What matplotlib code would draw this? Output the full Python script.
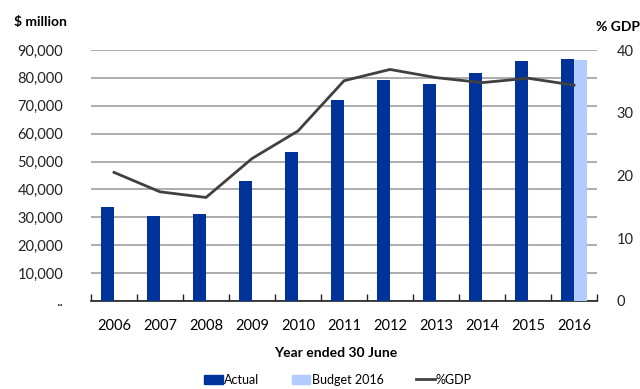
import matplotlib

matplotlib.use("Agg")
import matplotlib.pyplot as plt
from matplotlib.lines import Line2D
from matplotlib.patches import Patch
from matplotlib.ticker import FixedLocator, FuncFormatter

plt.rcParams["font.family"] = ["Lato", "DejaVu Sans"]

years = ["2006", "2007", "2008", "2009", "2010", "2011",
         "2012", "2013", "2014", "2015", "2016"]
actual = [33800, 30600, 31300, 43100, 53400, 72000,
          79200, 77700, 81700, 85900, 86600]
budget_2016 = 86400
pct_gdp = [20.5, 17.4, 16.5, 22.7, 27.1, 35.1,
           36.9, 35.6, 34.8, 35.5, 34.4]

ACTUAL_COLOR = "#003399"
BUDGET_COLOR = "#B3CCFF"
LINE_COLOR = "#404040"
GRID_COLOR = "#A6A6A6"

fig = plt.figure(figsize=(6.4, 3.89), dpi=100)
ax = fig.add_axes([91 / 640, 88 / 389, 506 / 640, 251 / 389])
ax2 = ax.twinx()

x = list(range(len(years)))
w = 0.28
ax.bar([i - w / 2 for i in x], actual, width=w, color=ACTUAL_COLOR, zorder=3)
ax.bar(x[-1] + w / 2, budget_2016, width=w, color=BUDGET_COLOR, zorder=3)
ax2.plot(x, pct_gdp, color=LINE_COLOR, linewidth=2, zorder=4)

ax.set_xlim(-0.5, len(years) - 0.5)
ax.set_ylim(0, 90000)
ax2.set_ylim(0, 40)

ax.set_yticks(range(0, 90001, 10000))
ax.yaxis.set_major_formatter(
    FuncFormatter(lambda v, _: ".." if v == 0 else f"{int(v):,}")
)
ax.grid(axis="y", color=GRID_COLOR, linewidth=1.3, zorder=0)
ax.set_axisbelow(True)
ax2.set_yticks(range(0, 41, 10))

ax.set_xticks(x)
ax.set_xticklabels(years)
ax.xaxis.set_minor_locator(FixedLocator([i - 0.5 for i in range(len(years) + 1)]))
ax.tick_params(axis="x", which="major", length=0, pad=13, labelsize=10.5)
ax.tick_params(axis="x", which="minor", direction="in", length=5, width=1, color="#222222")
ax.tick_params(axis="y", length=0, pad=20, labelsize=10.5, labelcolor="#222222")
ax2.tick_params(axis="y", length=0, pad=14, labelsize=10.5, labelcolor="#222222")

for a in (ax, ax2):
    for side in ("top", "left", "right"):
        a.spines[side].set_visible(False)
ax2.spines["bottom"].set_visible(False)
ax.spines["bottom"].set_color("#222222")
ax.spines["bottom"].set_linewidth(1.2)

fig.text(14 / 640, 1 - 22 / 389, "$ million", fontsize=10, fontweight="bold",
         ha="left", va="center")
fig.text(1.0, 1 - 27 / 389, "% GDP", fontsize=10, fontweight="bold",
         ha="right", va="center")
fig.text(0.5 + 16 / 640, 1 - 353 / 389, "Year ended 30 June", fontsize=10,
         fontweight="bold", ha="center", va="center")

handles = [
    Patch(color=ACTUAL_COLOR, label="Actual"),
    Patch(color=BUDGET_COLOR, label="Budget 2016"),
    Line2D([], [], color=LINE_COLOR, linewidth=2, label="%GDP"),
]
fig.legend(handles=handles, loc="center", bbox_to_anchor=(338 / 640, 1 - 380 / 389),
           ncol=3, frameon=False, fontsize=9, handlelength=1.5, handleheight=0.8,
           handletextpad=0.1, columnspacing=2.6, borderaxespad=0)

fig.savefig("out.png", dpi=100)
